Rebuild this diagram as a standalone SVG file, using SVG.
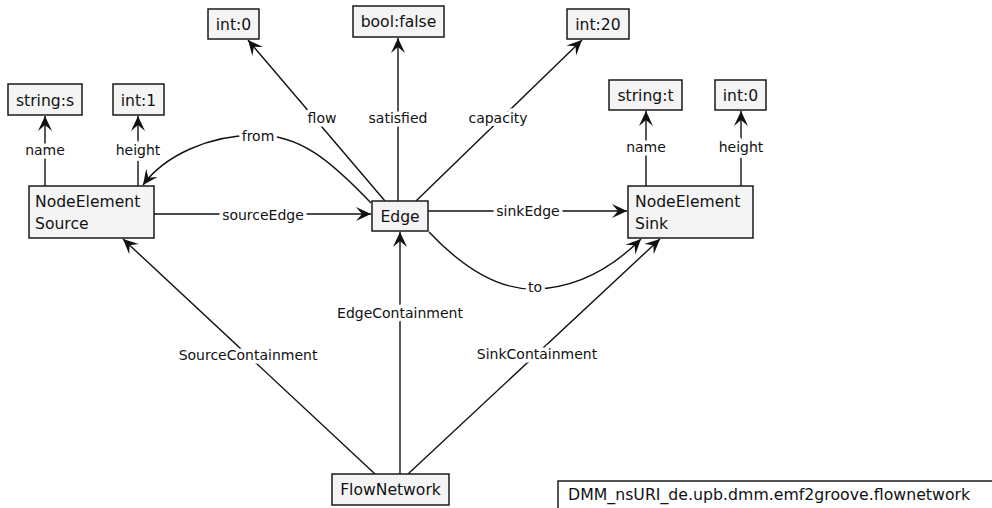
<svg xmlns="http://www.w3.org/2000/svg" width="992" height="508" viewBox="0 0 992 508">
  <style>
    .box { fill: #f4f4f4; stroke: #1a1a1a; stroke-width: 1.5; }
    .nt { font-family: "DejaVu Sans", Verdana, sans-serif; font-size: 15.6px; fill: #111; }
    .c { text-anchor: middle; }
    .edge { fill: none; stroke: #111; stroke-width: 1.4; }
    .lbl { font-family: "DejaVu Sans", Verdana, sans-serif; font-size: 14px; fill: #111; text-anchor: middle;
           stroke: #fff; stroke-width: 7; stroke-linejoin: round; paint-order: stroke; }
  </style>
  <defs>
    <marker id="arrow" markerUnits="userSpaceOnUse" viewBox="-16 -8 18 16" refX="0" refY="0"
            markerWidth="18" markerHeight="16" orient="auto">
      <path d="M0,0 L-15,-7 L-9,0 L-15,7 Z" fill="#111"/>
    </marker>
  </defs>
  <rect width="992" height="508" fill="#fff"/>

  <!-- connectors -->
  <g id="connectors">
    <path class="edge" d="M45,186 V116" marker-end="url(#arrow)"/>
    <path class="edge" d="M138,186 V116" marker-end="url(#arrow)"/>
    <path class="edge" d="M646,186 V111" marker-end="url(#arrow)"/>
    <path class="edge" d="M741,186 V111" marker-end="url(#arrow)"/>
    <path class="edge" d="M385,201 L248,40" marker-end="url(#arrow)"/>
    <path class="edge" d="M398,201 V38" marker-end="url(#arrow)"/>
    <path class="edge" d="M416,201 L582,40" marker-end="url(#arrow)"/>
    <path class="edge" d="M154,214 H371" marker-end="url(#arrow)"/>
    <path class="edge" d="M428,211 H627" marker-end="url(#arrow)"/>
    <path class="edge" d="M371,203 C330,160 300,135 257,135 C210,135 165,155 143,185" marker-end="url(#arrow)"/>
    <path class="edge" d="M429,232 C465,270 500,290 535,289 C575,288 610,270 641,239" marker-end="url(#arrow)"/>
    <path class="edge" d="M375,474 L123,239" marker-end="url(#arrow)"/>
    <path class="edge" d="M400,474 V232" marker-end="url(#arrow)"/>
    <path class="edge" d="M408,474 L660,239" marker-end="url(#arrow)"/>

    <text class="lbl" x="45" y="155">name</text>
    <text class="lbl" x="138" y="155">height</text>
    <text class="lbl" x="646" y="152">name</text>
    <text class="lbl" x="741" y="152">height</text>
    <text class="lbl" x="322" y="123">flow</text>
    <text class="lbl" x="398" y="123">satisfied</text>
    <text class="lbl" x="498" y="123">capacity</text>
    <text class="lbl" x="258" y="141">from</text>
    <text class="lbl" x="263" y="220">sourceEdge</text>
    <text class="lbl" x="528" y="216">sinkEdge</text>
    <text class="lbl" x="535" y="292">to</text>
    <text class="lbl" x="248" y="360">SourceContainment</text>
    <text class="lbl" x="400" y="318">EdgeContainment</text>
    <text class="lbl" x="537" y="359">SinkContainment</text>
  </g>

  <!-- nodes -->
  <g id="source">
    <rect class="box" x="29" y="186" width="125" height="52"/>
    <text class="nt" x="35" y="207">NodeElement</text>
    <text class="nt" x="35" y="229">Source</text>
  </g>
  <g id="source-name">
    <rect class="box" x="8" y="84" width="74" height="31"/>
    <text class="nt c" x="45" y="105.5">string:s</text>
  </g>
  <g id="source-height">
    <rect class="box" x="113" y="84" width="51" height="31"/>
    <text class="nt c" x="138.5" y="105.5">int:1</text>
  </g>
  <g id="edge">
    <rect class="box" x="372" y="201" width="56" height="30"/>
    <text class="nt c" x="400" y="221.5">Edge</text>
  </g>
  <g id="edge-flow">
    <rect class="box" x="208" y="9" width="51" height="30"/>
    <text class="nt c" x="233.5" y="30">int:0</text>
  </g>
  <g id="edge-satisfied">
    <rect class="box" x="353" y="6" width="91" height="31"/>
    <text class="nt c" x="398.5" y="27">bool:false</text>
  </g>
  <g id="edge-capacity">
    <rect class="box" x="567" y="9" width="62" height="30"/>
    <text class="nt c" x="598" y="30">int:20</text>
  </g>
  <g id="sink">
    <rect class="box" x="628" y="186" width="125" height="52"/>
    <text class="nt" x="635" y="207">NodeElement</text>
    <text class="nt" x="635" y="229">Sink</text>
  </g>
  <g id="sink-name">
    <rect class="box" x="609" y="80" width="73" height="30"/>
    <text class="nt c" x="645.5" y="101">string:t</text>
  </g>
  <g id="sink-height">
    <rect class="box" x="715" y="80" width="51" height="30"/>
    <text class="nt c" x="740.5" y="101">int:0</text>
  </g>
  <g id="flownetwork">
    <rect class="box" x="332" y="474" width="117" height="31"/>
    <text class="nt c" x="390.5" y="495">FlowNetwork</text>
  </g>
  <g id="nsuri">
    <rect x="558" y="481" width="440" height="40" fill="#fff" stroke="#1a1a1a" stroke-width="1.5"/>
    <text class="nt" x="568" y="500" style="font-size:15.75px">DMM_nsURI_de.upb.dmm.emf2groove.flownetwork</text>
  </g>
</svg>
